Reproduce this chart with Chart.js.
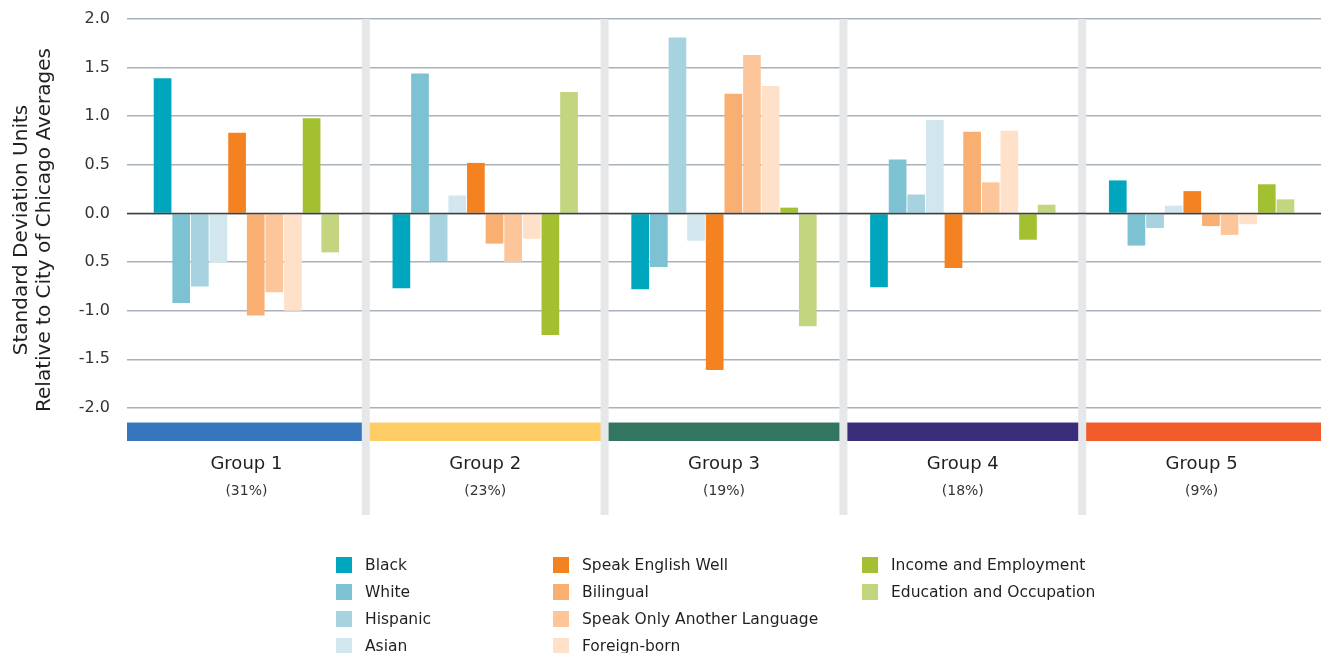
<!DOCTYPE html>
<html>
<head>
<meta charset="utf-8">
<script src="https://cdn.jsdelivr.net/npm/chart.js@4.4.1/dist/chart.umd.min.js"></script>
<style>
  body { margin: 0; background: #fff; font-family: "DejaVu Sans", sans-serif; }
  #wrap { position: relative; width: 1321px; height: 653px; }
  #legend {
    position: absolute; left: 336px; top: 551px;
    display: grid; grid-template-columns: 217px 309px auto;
    grid-template-rows: repeat(4, 27px); grid-auto-flow: column;
  }
  .item { display: flex; align-items: center; height: 27px; font-size: 15.5px; color: #231f20; white-space: nowrap; }
  .box { width: 16px; height: 16px; margin-right: 13px; }
</style>
</head>
<body>
<div id="wrap">
  <canvas id="chart"></canvas>
  <div id="legend"></div>
</div>
<script>
const groups = ['Group 1', 'Group 2', 'Group 3', 'Group 4', 'Group 5'];
const groupShares = ['(31%)', '(23%)', '(19%)', '(18%)', '(9%)'];
const groupColors = ['#3776bd', '#ffcd66', '#327561', '#3b2e79', '#f15a2b'];

const seriesNames = ['Black', 'White', 'Hispanic', 'Asian', 'Speak English Well', 'Bilingual',
  'Speak Only Another Language', 'Foreign-born', 'Income and Employment', 'Education and Occupation'];
const seriesColors = ['#00a6be', '#7cc2d2', '#a6d3df', '#d1e6ed', '#f58220', '#f9af72',
  '#fcc69a', '#ffe0c9', '#a3c030', '#c4d580'];

const black     = [1.39, -0.77, -0.78, -0.76, 0.34];
const white     = [-0.92, 1.44, -0.55, 0.555, -0.33];
const hispanic  = [-0.75, -0.49, 1.81, 0.195, -0.15];
const asian     = [-0.51, 0.185, -0.28, 0.96, 0.08];
const speakEng  = [0.83, 0.52, -1.61, -0.56, 0.23];
const bilingual = [-1.05, -0.31, 1.23, 0.84, -0.13];
const speakOnly = [-0.81, -0.50, 1.63, 0.32, -0.22];
const foreign   = [-1.00, -0.26, 1.31, 0.85, -0.11];
const income    = [0.98, -1.25, 0.06, -0.27, 0.30];
const education = [-0.40, 1.25, -1.16, 0.09, 0.145];
const seriesValues = [black, white, hispanic, asian, speakEng, bilingual, speakOnly, foreign, income, education];

const yTicks = [2, 1.5, 1, 0.5, 0, -0.5, -1, -1.5, -2];
const yTickLabels = ['2.0', '1.5', '1.0', '0.5', '0.0', '0.5', '-1.0', '-1.5', '-2.0'];

const FONT = '"DejaVu Sans", sans-serif';

const overlay = {
  id: 'overlay',
  beforeDatasetsDraw(chart) {
    const { ctx, chartArea, scales: { x, y } } = chart;
    const half = (x.getPixelForValue(1) - x.getPixelForValue(0)) / 2;
    ctx.save();
    // colour band under each group
    const bTop = y.getPixelForValue(-2.15);
    groups.forEach((g, i) => {
      const cx = x.getPixelForValue(i);
      ctx.fillStyle = groupColors[i];
      ctx.fillRect(cx - half, bTop, half * 2, chartArea.bottom - bTop);
    });
    // grey separators
    ctx.fillStyle = '#e6e7e9';
    for (let i = 1; i < groups.length; i++) {
      const sx = x.getPixelForValue(i) - half;
      ctx.fillRect(sx - 4, chartArea.top, 8, chartArea.bottom + 74 - chartArea.top);
    }
    ctx.restore();
  },
  afterDatasetsDraw(chart) {
    const { ctx, chartArea, scales: { x, y } } = chart;
    ctx.save();
    const y0 = y.getPixelForValue(0);
    ctx.strokeStyle = '#3f3f3f';
    ctx.lineWidth = 1.5;
    ctx.beginPath();
    ctx.moveTo(chartArea.left, y0);
    ctx.lineTo(chartArea.right, y0);
    ctx.stroke();
    ctx.textAlign = 'center';
    ctx.textBaseline = 'middle';
    groups.forEach((g, i) => {
      const cx = x.getPixelForValue(i);
      ctx.fillStyle = '#231f20';
      ctx.font = '18px ' + FONT;
      ctx.fillText(g, cx, chartArea.bottom + 23);
      ctx.fillStyle = '#333';
      ctx.font = '14px ' + FONT;
      ctx.fillText(groupShares[i], cx, chartArea.bottom + 50);
    });
    ctx.restore();
  }
};

const chartData = {
  labels: groups,
  datasets: seriesNames.map((name, i) => ({
    label: name,
    data: seriesValues[i],
    backgroundColor: seriesColors[i],
    borderWidth: 0,
    barPercentage: 0.95,
    categoryPercentage: 0.78
  }))
};

const chartConfig = {
  type: 'bar',
  data: chartData,
  options: {
    responsive: true,
    maintainAspectRatio: false,
    animation: false,
    layout: { padding: { top: 19, right: 0, bottom: 212, left: 10 } },
    plugins: { legend: { display: false }, tooltip: { enabled: false } },
    scales: {
      x: { display: false },
      y: {
        min: -2.34,
        max: 2,
        afterBuildTicks: axis => { axis.ticks = yTicks.map(v => ({ value: v })); },
        afterFit: axis => { axis.width = 117; axis.paddingTop = 0; axis.paddingBottom = 0; },
        border: { display: false },
        grid: { color: '#a9b2ba', lineWidth: 1.5, drawTicks: false },
        ticks: {
          padding: 17,
          color: '#333',
          font: { family: FONT, size: 16 },
          callback: (v, i) => yTickLabels[i]
        },
        title: {
          display: true,
          text: ['Standard Deviation Units', 'Relative to City of Chicago Averages'],
          color: '#231f20',
          font: { family: FONT, size: 20, lineHeight: 1.15 },
          padding: { top: 0, bottom: 0 }
        }
      }
    }
  },
  plugins: [overlay]
};

const legendEl = document.getElementById('legend');
seriesNames.forEach((name, i) => {
  const item = document.createElement('div');
  item.className = 'item';
  item.innerHTML = '<span class="box" style="background:' + seriesColors[i] + '"></span>' + name;
  legendEl.appendChild(item);
});

const chartElement = document.getElementById('chart');
const chart = new Chart(chartElement, chartConfig);
</script>
</body>
</html>
